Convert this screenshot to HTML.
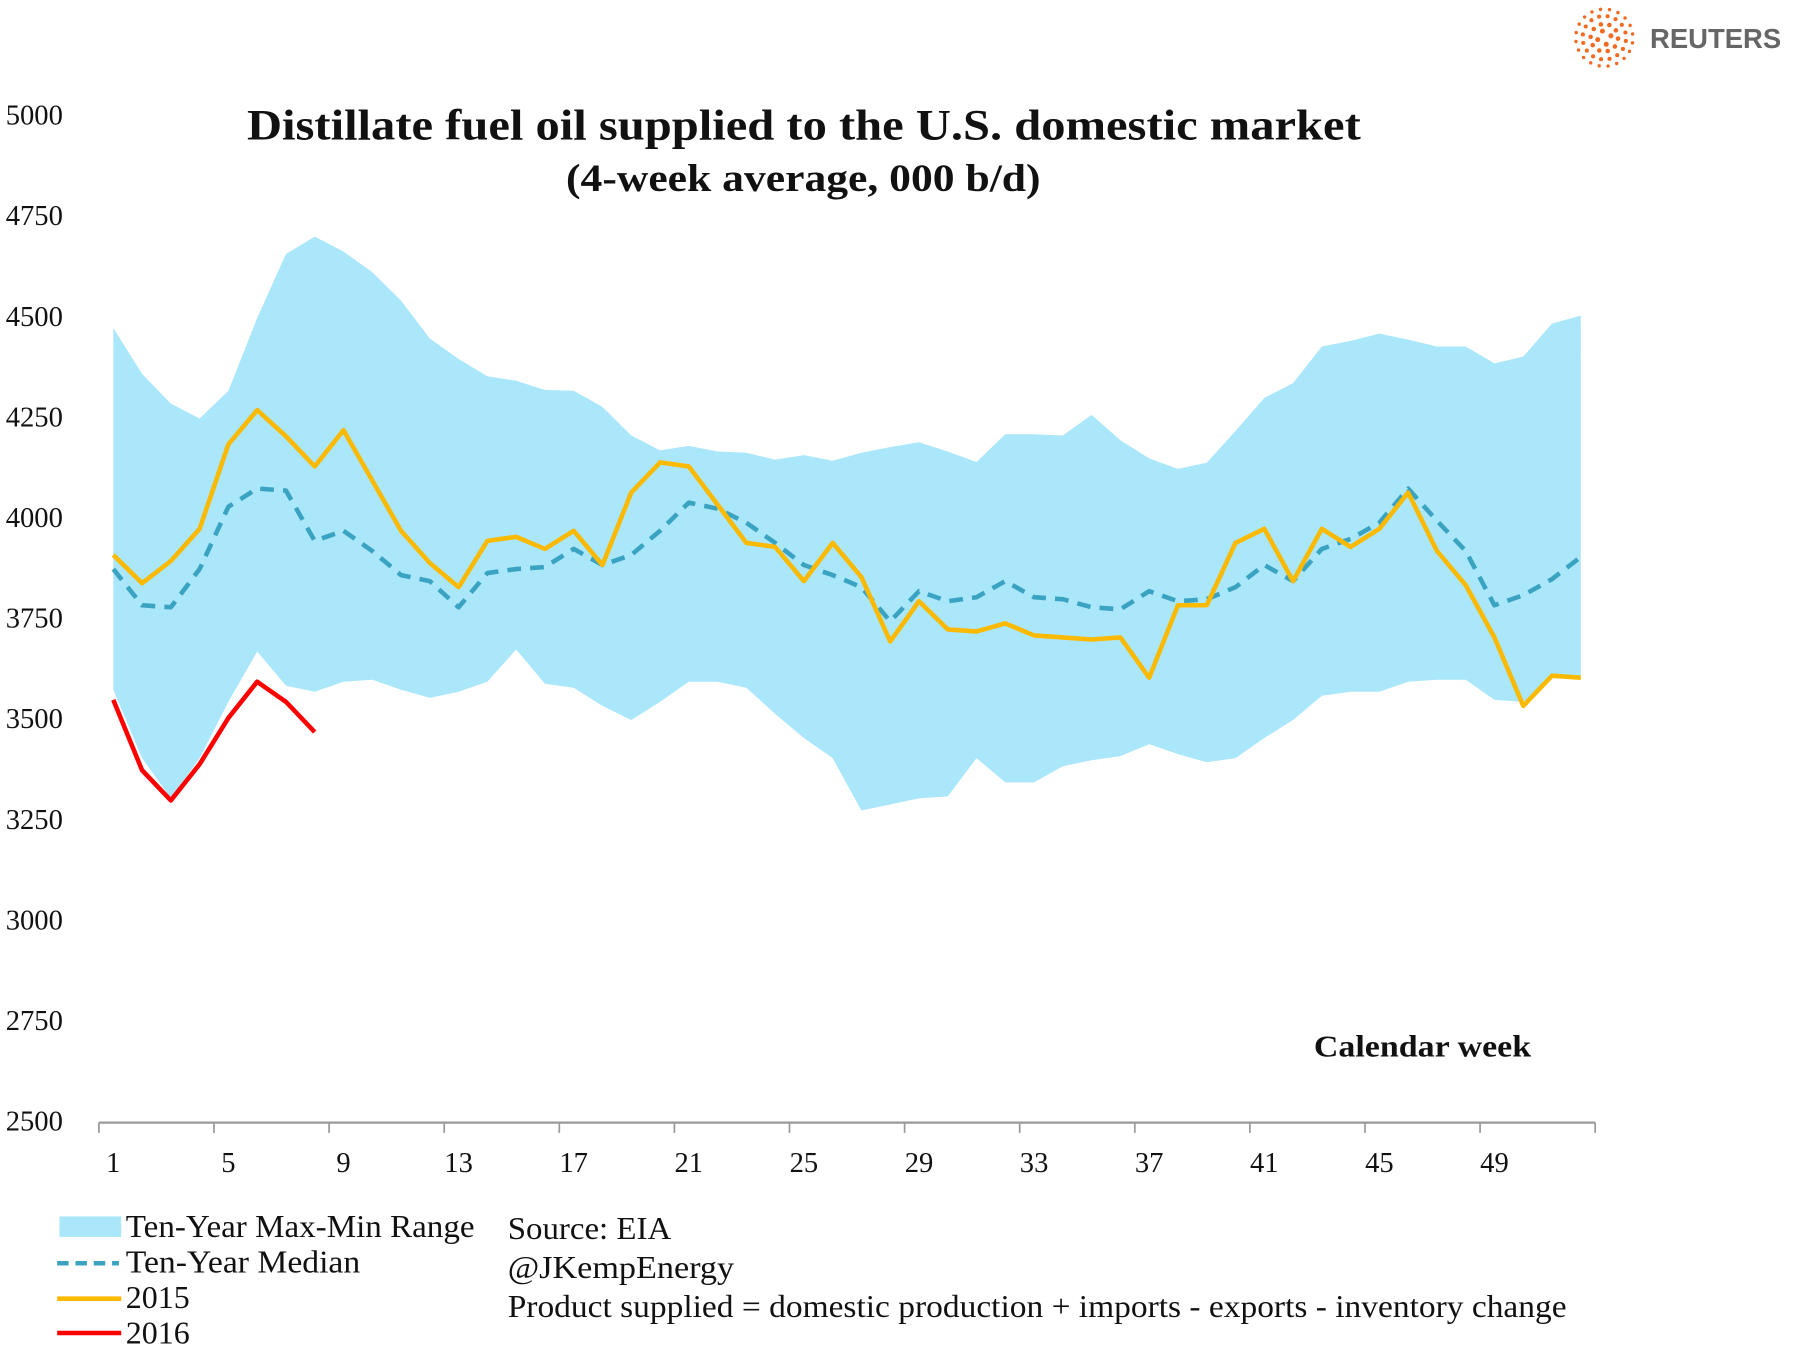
<!DOCTYPE html>
<html><head><meta charset="utf-8"><style>
html,body{margin:0;padding:0;background:#fff;}
svg{display:block;}
text{font-family:"Liberation Serif",serif;fill:#111;}
</style></head><body>
<svg id="chart" width="1793" height="1357" viewBox="0 0 1568 1187" preserveAspectRatio="none" xmlns="http://www.w3.org/2000/svg">
<g>
<g id="logo-dots"></g>
<text x="1443" y="42" style="font-family:'Liberation Sans',sans-serif;font-weight:bold;font-size:24px;fill:#666;">REUTERS</text>
</g>
<text x="216" y="122" textLength="974" lengthAdjust="spacingAndGlyphs" style="font-weight:bold;font-size:38px;">Distillate fuel oil supplied to the U.S. domestic market</text>
<text x="495" y="167" textLength="415" lengthAdjust="spacingAndGlyphs" style="font-weight:bold;font-size:34px;">(4-week average, 000 b/d)</text>
<g id="plot"></g>
<text x="1149" y="924" textLength="190" lengthAdjust="spacingAndGlyphs" style="font-weight:bold;font-size:27px;">Calendar week</text>
<g style="font-size:28px;">
<rect x="52" y="1064" width="54" height="18" fill="#abe7fb"/>
<text x="110" y="1082" textLength="305" lengthAdjust="spacingAndGlyphs">Ten-Year Max-Min Range</text>
<line x1="50" y1="1105" x2="104" y2="1105" stroke="#3aa3c2" stroke-width="4" stroke-dasharray="10,6"/>
<text x="110" y="1113" textLength="205" lengthAdjust="spacingAndGlyphs">Ten-Year Median</text>
<line x1="50" y1="1136" x2="106" y2="1136" stroke="#fbb900" stroke-width="4"/>
<text x="110" y="1144">2015</text>
<line x1="50" y1="1166" x2="106" y2="1166" stroke="#f00" stroke-width="4"/>
<text x="110" y="1175">2016</text>
</g>
<g style="font-size:28px;">
<text x="444" y="1084" textLength="143" lengthAdjust="spacingAndGlyphs">Source: EIA</text>
<text x="444" y="1118" textLength="198" lengthAdjust="spacingAndGlyphs">@JKempEnergy</text>
<text x="444" y="1152" textLength="926" lengthAdjust="spacingAndGlyphs">Product supplied = domestic production + imports - exports - inventory change</text>
</g>
</svg>
<script>
const weeks = Array.from({length:52},(_,i)=>i+1);
const yTicks = [2500,2750,3000,3250,3500,3750,4000,4250,4500,4750,5000];
const xTickLabels = [1,5,9,13,17,21,25,29,33,37,41,45,49];
const rangeMax = [4469,4355,4281,4244,4313,4494,4653,4696,4659,4608,4537,4443,4392,4349,4338,4315,4313,4273,4202,4165,4176,4162,4159,4142,4153,4139,4159,4173,4185,4162,4136,4205,4205,4202,4253,4190,4145,4119,4134,4213,4295,4332,4423,4437,4455,4440,4423,4423,4381,4398,4480,4500];
const rangeMin = [3570,3400,3300,3400,3540,3665,3580,3565,3590,3595,3570,3550,3565,3590,3670,3585,3575,3530,3495,3540,3590,3590,3575,3510,3450,3400,3270,3285,3300,3305,3400,3340,3340,3380,3395,3405,3435,3410,3390,3400,3450,3495,3555,3565,3565,3590,3595,3595,3545,3540,3600,3605];
const median = [3870,3780,3775,3870,4025,4070,4065,3940,3965,3915,3855,3840,3775,3860,3870,3875,3920,3880,3905,3965,4035,4020,3985,3935,3880,3855,3825,3740,3815,3790,3800,3840,3800,3795,3775,3770,3815,3790,3795,3825,3880,3840,3920,3945,3985,4070,3990,3915,3780,3805,3845,3900];
const y2015 = [3905,3835,3890,3970,4180,4265,4200,4125,4215,4090,3965,3885,3825,3940,3950,3920,3965,3880,4060,4135,4125,4030,3935,3925,3840,3935,3850,3690,3790,3720,3715,3735,3705,3700,3695,3700,3600,3780,3780,3935,3970,3840,3970,3925,3970,4060,3915,3830,3700,3530,3605,3600];
const y2016 = [3545,3370,3295,3385,3500,3590,3540,3465];

const NS="http://www.w3.org/2000/svg";
const X0=86.5, X1=1395, Y0=980, Y1=100, VMIN=2500, VMAX=5000;
const step=(X1-X0)/52;
const xPos = w => X0 + (w-0.5)*step;
const yPos = v => Y0 - (v-VMIN)/(VMAX-VMIN)*(Y0-Y1);
const plot=document.getElementById('plot');
function mk(tag,attrs,parent){const e=document.createElementNS(NS,tag);for(const k in attrs)e.setAttribute(k,attrs[k]);(parent||plot).appendChild(e);return e;}

let d = rangeMax.map((v,i)=>(i?'L':'M')+xPos(weeks[i])+','+yPos(v)).join(' ');
for(let i=rangeMin.length-1;i>=0;i--) d+=' L'+xPos(weeks[i])+','+yPos(rangeMin[i]);
const band=mk('path',{d:d+'Z',fill:'#abe7fb'});



function line(arr,color,name,dash){
  const p=mk('path',{d:arr.map((v,i)=>(i?'L':'M')+xPos(weeks[i])+','+yPos(v)).join(' '),fill:'none',stroke:color,'stroke-width':4,'stroke-linejoin':'round'});
  if(dash)p.setAttribute('stroke-dasharray',dash);
  
  
}
line(median,'#3aa3c2','median-line','12,8');
line(y2015,'#fbb900','line-2015');
line(y2016,'#f00','line-2016');

const ax=mk('line',{x1:X0,y1:Y0+2,x2:X1,y2:Y0+2,stroke:'#999','stroke-width':2});


for(let k=0;k<=13;k++){
  const tx=X0+k*4*step;
  const t=mk('line',{x1:tx,y1:Y0+2,x2:tx,y2:Y0+11,stroke:'#999','stroke-width':1.5});
  
  
}
xTickLabels.forEach(w=>{
  const t=mk('text',{x:xPos(w),y:1025,'text-anchor':'middle','font-size':25});
  t.textContent=w;
  
  
});
yTicks.forEach(v=>{
  const t=mk('text',{x:5,y:yPos(v)+9,'font-size':25});
  t.textContent=v;
  
  
});

const lg=document.getElementById('logo-dots');
const cx=1403, cy=33;
[[6,4,2.2],[12,10,2],[19,16,1.8],[25,20,1.5]].forEach(([r,n,s])=>{
  for(let i=0;i<n;i++){const a=i/n*Math.PI*2+r;
    mk('circle',{cx:cx+r*Math.cos(a),cy:cy+r*Math.sin(a),r:s,fill:'#f26a21'},lg);}
});
</script>
</body></html>
